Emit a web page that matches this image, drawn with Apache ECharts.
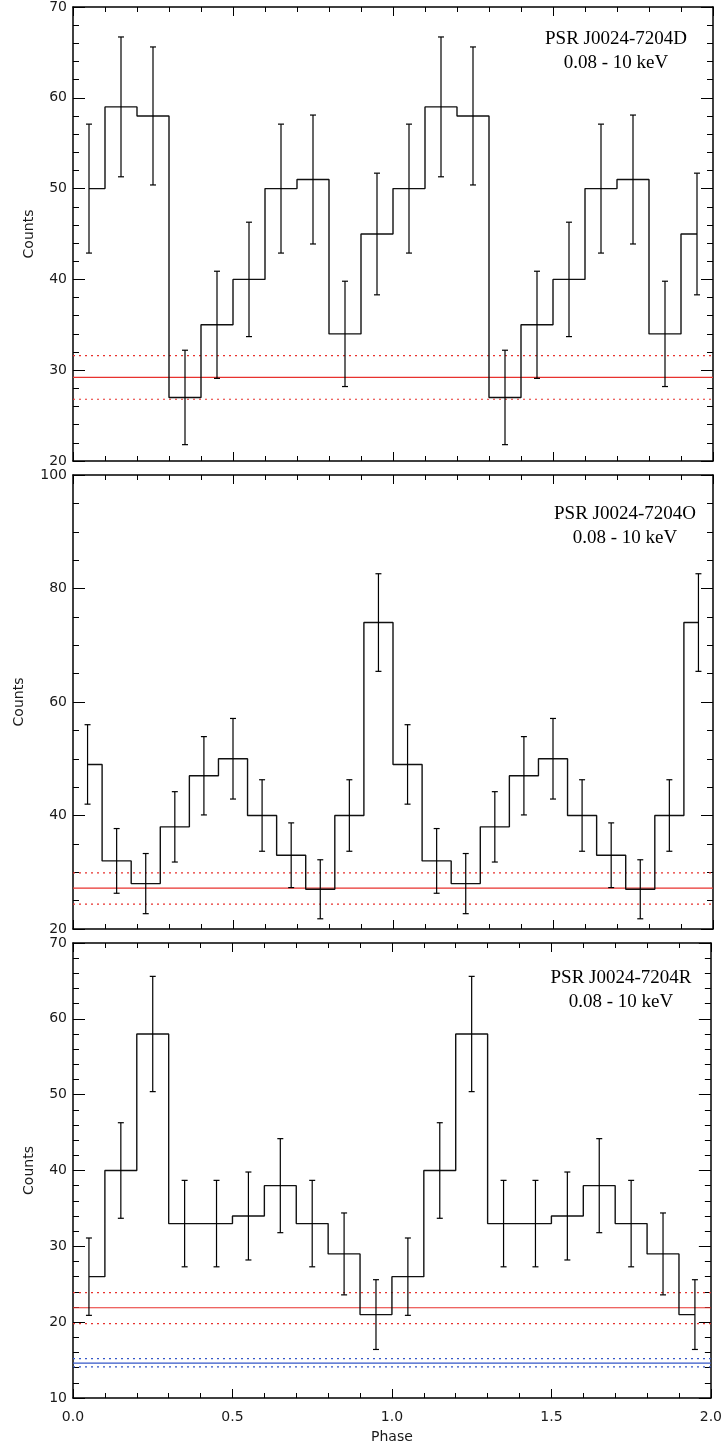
<!DOCTYPE html>
<html>
<head>
<meta charset="utf-8">
<script src="https://cdn.jsdelivr.net/npm/echarts@6/dist/echarts.min.js"></script>
<style>
  html, body { margin: 0; padding: 0; background: #fff; }
  #chart { width: 725px; height: 1445px; }
</style>
</head>
<body>
<div id="chart"></div>
<script>
// phase bin centres (10 bins per cycle for D and R, 11 bins per cycle for O)
var phase10 = [0.05, 0.15, 0.25, 0.35, 0.45, 0.55, 0.65, 0.75, 0.85, 0.95,
               1.05, 1.15, 1.25, 1.35, 1.45, 1.55, 1.65, 1.75, 1.85, 1.95];
var phase11 = [0.0455, 0.1364, 0.2273, 0.3182, 0.4091, 0.5, 0.5909, 0.6818, 0.7727, 0.8636, 0.9545,
               1.0455, 1.1364, 1.2273, 1.3182, 1.4091, 1.5, 1.5909, 1.6818, 1.7727, 1.8636, 1.9545];

// PSR J0024-7204D
var countsD = [50, 59, 58, 27, 35, 40, 50, 51, 34, 45,
               50, 59, 58, 27, 35, 40, 50, 51, 34, 45];
var errD    = [7.1, 7.7, 7.6, 5.2, 5.9, 6.3, 7.1, 7.1, 5.8, 6.7,
               7.1, 7.7, 7.6, 5.2, 5.9, 6.3, 7.1, 7.1, 5.8, 6.7];
var bgD     = [29.2, 31.6, 26.8];

// PSR J0024-7204O
var countsO = [49, 32, 28, 38, 47, 50, 40, 33, 27, 40, 74,
               49, 32, 28, 38, 47, 50, 40, 33, 27, 40, 74];
var errO    = [7.0, 5.7, 5.3, 6.2, 6.9, 7.1, 6.3, 5.7, 5.2, 6.3, 8.6,
               7.0, 5.7, 5.3, 6.2, 6.9, 7.1, 6.3, 5.7, 5.2, 6.3, 8.6];
var bgO     = [27.2, 29.9, 24.4];

// PSR J0024-7204R
var countsR = [26, 40, 58, 33, 33, 34, 38, 33, 29, 21,
               26, 40, 58, 33, 33, 34, 38, 33, 29, 21];
var errR    = [5.1, 6.3, 7.6, 5.7, 5.7, 5.8, 6.2, 5.7, 5.4, 4.6,
               5.1, 6.3, 7.6, 5.7, 5.7, 5.8, 6.2, 5.7, 5.4, 4.6];
var bgR     = [21.9, 23.9, 19.8];
var bgRblue = [14.6, 15.2, 14.1];

var titles = ['PSR J0024-7204D', 'PSR J0024-7204O', 'PSR J0024-7204R'];
var band = '0.08 - 10 keV';

var RED = '#e8322e', BLUE = '#3557c8';
var tickFont = { fontFamily: 'DejaVu Sans', fontSize: 14, color: '#1a1a1a' };

var panels = [
  { top: 7,   height: 454, min: 20, max: 70,  interval: 10, minorSplit: 5, phase: phase10, counts: countsD, err: errD,
    bg: [{ v: bgD, c: RED }], nameGap: 37, title: titles[0], tx: 616, ty: 27 },
  { top: 475, height: 454, min: 20, max: 100, interval: 20, minorSplit: 4, phase: phase11, counts: countsO, err: errO,
    bg: [{ v: bgO, c: RED }], nameGap: 47, title: titles[1], tx: 625, ty: 502 },
  { top: 943, height: 455, min: 10, max: 70,  interval: 10, minorSplit: 5, phase: phase10, counts: countsR, err: errR,
    bg: [{ v: bgR, c: RED }, { v: bgRblue, c: BLUE }], nameGap: 37, title: titles[2], tx: 621, ty: 966 }
];

var grid = [], xAxis = [], yAxis = [], series = [], graphic = [];
var axisLine = { show: true, onZero: false, lineStyle: { color: '#000', width: 1.5 } };

panels.forEach(function (p, i) {
  grid.push({ left: 73, right: 12, top: p.top, height: p.height });
  var last = (i === panels.length - 1);
  // bottom and top x axes
  xAxis.push({
    type: 'value', gridIndex: i, position: 'bottom', min: 0, max: 2, interval: 0.5,
    axisLine: axisLine, splitLine: { show: false },
    axisTick: { show: true, inside: true, length: 9, lineStyle: { color: '#000' } },
    minorTick: { show: true, splitNumber: 5, length: 5, lineStyle: { color: '#000' } },
    axisLabel: Object.assign({ show: last, margin: 12, formatter: function (v) { return v.toFixed(1); } }, tickFont),
    name: last ? 'Phase' : '', nameLocation: 'middle', nameGap: 32,
    nameTextStyle: tickFont
  });
  xAxis.push({
    type: 'value', gridIndex: i, position: 'top', min: 0, max: 2, interval: 0.5,
    axisLine: axisLine, splitLine: { show: false }, axisLabel: { show: false },
    axisTick: { show: true, inside: true, length: 9, lineStyle: { color: '#000' } },
    minorTick: { show: true, splitNumber: 5, length: 5, lineStyle: { color: '#000' } }
  });
  // left and right y axes
  yAxis.push({
    type: 'value', gridIndex: i, position: 'left', min: p.min, max: p.max, interval: p.interval,
    axisLine: axisLine, splitLine: { show: false },
    axisTick: { show: true, inside: true, length: 12, lineStyle: { color: '#000' } },
    minorTick: { show: true, splitNumber: p.minorSplit, length: 6, lineStyle: { color: '#000' } },
    axisLabel: Object.assign({ margin: 6 }, tickFont),
    name: 'Counts', nameLocation: 'middle', nameRotate: 90, nameGap: p.nameGap,
    nameTextStyle: tickFont
  });
  yAxis.push({
    type: 'value', gridIndex: i, position: 'right', min: p.min, max: p.max, interval: p.interval,
    axisLine: axisLine, splitLine: { show: false }, axisLabel: { show: false },
    axisTick: { show: true, inside: true, length: 12, lineStyle: { color: '#000' } },
    minorTick: { show: true, splitNumber: p.minorSplit, length: 6, lineStyle: { color: '#000' } }
  });

  // background levels: solid mean, dotted +/- 1 sigma
  p.bg.forEach(function (b) {
    b.v.forEach(function (v, k) {
      series.push({
        type: 'line', xAxisIndex: 2 * i, yAxisIndex: 2 * i, symbol: 'none', silent: true,
        lineStyle: { color: b.c, width: 1.2, type: k === 0 ? 'solid' : [2, 4] },
        data: [[0, v], [2, v]],
        z: 2
      });
    });
  });

  // step histogram
  series.push({
    type: 'line', xAxisIndex: 2 * i, yAxisIndex: 2 * i, step: 'middle', symbol: 'none',
    lineStyle: { color: '#111', width: 1.4 },
    data: p.phase.map(function (x, k) { return [x, p.counts[k]]; }),
    z: 3
  });

  // error bars
  series.push({
    type: 'custom', xAxisIndex: 2 * i, yAxisIndex: 2 * i,
    data: p.phase.map(function (x, k) { return [x, p.counts[k] - p.err[k], p.counts[k] + p.err[k]]; }),
    encode: { x: 0, y: [1, 2] },
    renderItem: function (params, api) {
      var lo = api.coord([api.value(0), api.value(1)]);
      var hi = api.coord([api.value(0), api.value(2)]);
      var w = 3;
      var st = { stroke: '#000', lineWidth: 1.2 };
      return {
        type: 'group',
        children: [
          { type: 'line', shape: { x1: lo[0], y1: lo[1], x2: hi[0], y2: hi[1] }, style: st },
          { type: 'line', shape: { x1: lo[0] - w, y1: lo[1], x2: lo[0] + w, y2: lo[1] }, style: st },
          { type: 'line', shape: { x1: hi[0] - w, y1: hi[1], x2: hi[0] + w, y2: hi[1] }, style: st }
        ]
      };
    },
    z: 4
  });

  graphic.push({
    type: 'text', x: p.tx, y: p.ty,
    style: {
      text: p.title + '\n' + band, textAlign: 'center',
      font: '19px "Liberation Serif"', lineHeight: 24, fill: '#000'
    }
  });
});

var chart = echarts.init(document.getElementById('chart'));
chart.setOption({
  animation: false,
  backgroundColor: '#fff',
  grid: grid,
  xAxis: xAxis,
  yAxis: yAxis,
  series: series,
  graphic: graphic
});
</script>
</body>
</html>
